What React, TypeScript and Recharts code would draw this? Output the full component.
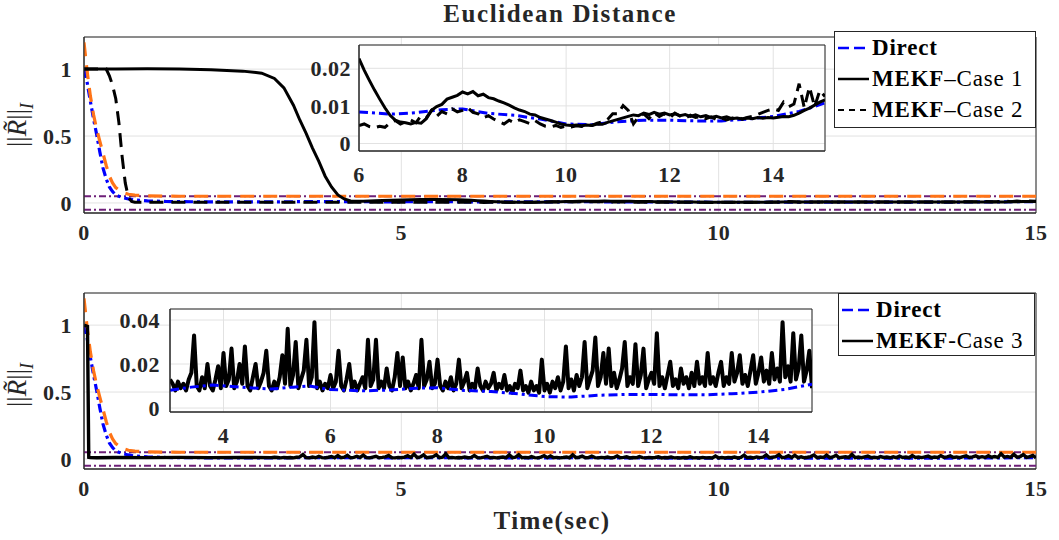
import React from "react";
import { LineChart, Line, XAxis, YAxis, CartesianGrid, ReferenceArea } from "recharts";

const FONT = "'Liberation Serif', 'DejaVu Serif', serif";
const INK = "#262626";
const GRID = "#e2e2e2";
const BLUE = "#0000ff";
const ORANGE = "#ff7417";
const PURPLE = "#6e1f78";

// axes
const mainTicksX = [0, 5, 10, 15];
const mainTicksY = [0, 0.5, 1];
const mainDomainY = [-0.075, 1.24];
const topInsetTicksX = [6, 8, 10, 12, 14];
const topInsetTicksY = [0, 0.01, 0.02];
const topInsetDomainY = [-0.002, 0.0262];
const bottomInsetTicksX = [4, 6, 8, 10, 12, 14];
const bottomInsetTicksY = [0, 0.02, 0.04];
const bottomInsetDomainY = [-0.0018, 0.045];

// bounds (purple dash-dot)
const boundT = [0, 15];
const upperV = [0.05, 0.05];
const lowerV = [-0.05, -0.05];

// Direct (blue)
const directT = [0, 0.05, 0.1, 0.15, 0.2, 0.25, 0.3, 0.35, 0.4, 0.45, 0.5, 0.6, 0.7, 0.8, 1.0, 1.3, 1.7, 2.2, 2.7, 3.0, 3.4, 3.8, 4.3, 4.9, 5.3, 5.6, 6.0, 6.6, 7.1, 7.6, 8.0, 8.5, 9.0, 9.5, 10.0, 10.5, 11.0, 11.5, 12.0, 12.5, 13.0, 13.5, 14.0, 14.5, 15.0];
const directV = [1.0, 0.9, 0.76, 0.63, 0.51, 0.38, 0.26, 0.18, 0.12, 0.085, 0.06, 0.04, 0.03, 0.022, 0.015, 0.011, 0.009, 0.0085, 0.0082, 0.0081, 0.0095, 0.0105, 0.0095, 0.0086, 0.0095, 0.01, 0.0084, 0.0078, 0.0082, 0.009, 0.0092, 0.008, 0.0075, 0.0065, 0.0052, 0.005, 0.0058, 0.0062, 0.0062, 0.006, 0.006, 0.0065, 0.0072, 0.0085, 0.0108];

// orange reference (no legend entry)
const orangeT = [0, 0.05, 0.1, 0.15, 0.2, 0.25, 0.3, 0.35, 0.4, 0.45, 0.5, 0.6, 0.7, 0.8, 1.0, 1.5, 15];
const orangeV = [1.2, 0.98, 0.8, 0.66, 0.55, 0.46, 0.37, 0.28, 0.2, 0.15, 0.115, 0.08, 0.065, 0.058, 0.053, 0.05, 0.05];

// MEKF Case 1: transient, then 6..15 every 0.1 s
const case1T = [0, 0.5, 1.0, 1.5, 2.0, 2.5, 2.8, 3.0, 3.15, 3.3, 3.4, 3.5, 3.6, 3.7, 3.8, 3.9, 4.0, 4.1, 4.2, 4.4, 4.7, 5.0, 5.3, 5.6, 5.9];
const case1V = [1.0, 1.0, 1.002, 1.0, 0.995, 0.985, 0.97, 0.93, 0.86, 0.73, 0.62, 0.52, 0.41, 0.31, 0.2, 0.12, 0.06, 0.03, 0.015, 0.012, 0.018, 0.022, 0.026, 0.026, 0.024];
const case1TailV = [
  0.0226, 0.0195, 0.0168, 0.0142, 0.0118, 0.0095, 0.0075, 0.0062, 0.0057, 0.0055,
  0.0052, 0.0056, 0.0054, 0.0066, 0.0088, 0.0098, 0.0104, 0.0118, 0.0123, 0.0128,
  0.0137, 0.0132, 0.0138, 0.0127, 0.0131, 0.0122, 0.0119, 0.0113, 0.0108, 0.0102,
  0.0095, 0.0089, 0.0085, 0.0078, 0.0076, 0.0069, 0.0065, 0.0061, 0.0057, 0.0052,
  0.0049, 0.0048, 0.0049, 0.0047, 0.0049, 0.0048, 0.0052, 0.0051, 0.0056, 0.006,
  0.0064, 0.0068, 0.0072, 0.0076, 0.0074, 0.0081, 0.0077, 0.0083, 0.0078, 0.0081,
  0.0076, 0.0079, 0.0074, 0.0077, 0.0072, 0.0076, 0.0071, 0.0074, 0.0069, 0.0072,
  0.0068, 0.0071, 0.0066, 0.0068, 0.0065, 0.0068, 0.0066, 0.0069, 0.0067, 0.0069,
  0.0068, 0.007, 0.0072, 0.0071, 0.0075, 0.0081, 0.0088, 0.0094, 0.0102, 0.011,
  0.0116,
];

// MEKF Case 2
const case2T = [0, 0.35, 0.4, 0.45, 0.5, 0.55, 0.6, 0.65, 0.7, 0.75, 0.8, 1.0, 1.5, 2.0, 2.5, 3.0, 3.5, 4.0, 4.5, 5.0, 5.5, 5.9];
const case2V = [1.0, 1.0, 0.95, 0.88, 0.78, 0.6, 0.35, 0.15, 0.04, 0.012, 0.006, 0.005, 0.006, 0.005, 0.006, 0.005, 0.006, 0.005, 0.006, 0.005, 0.006, 0.005];
const case2TailV = [
  0.0048, 0.0052, 0.0045, 0.0042, 0.0046, 0.0043, 0.0055, 0.0061, 0.0052, 0.0058,
  0.0062, 0.0055, 0.0074, 0.0068, 0.0088, 0.0072, 0.0085, 0.0079, 0.0092, 0.0084,
  0.0088, 0.0095, 0.0083, 0.0079, 0.0068, 0.0074, 0.0065, 0.0058, 0.0052, 0.0062,
  0.0055, 0.0063, 0.0058, 0.0053, 0.0061, 0.0052, 0.0046, 0.0044, 0.0048, 0.0043,
  0.0046, 0.0044, 0.0047, 0.0045, 0.005, 0.0048, 0.0054, 0.0058, 0.0064, 0.0079,
  0.0079, 0.0101, 0.0088, 0.0052, 0.0071, 0.0079, 0.0066, 0.0082, 0.0072, 0.0079,
  0.0068, 0.0081, 0.0073, 0.0067, 0.0075, 0.0069, 0.0072, 0.0066, 0.0071, 0.0064,
  0.0068, 0.0063, 0.0067, 0.0071, 0.0065, 0.0069, 0.0072, 0.0077, 0.0083, 0.0088,
  0.0092, 0.0088, 0.011, 0.0098, 0.0105, 0.0159, 0.0095, 0.015, 0.0098, 0.0141,
  0.0125,
];

// MEKF Case 3: transient, then 3..15 every 0.05 s
const case3T = [0, 0.055, 0.065, 0.075, 0.1, 0.2, 0.5, 1.0, 1.5, 2.0, 2.5, 2.95];
const case3V = [1.0, 0.99, 0.5, 0.012, 0.01, 0.009, 0.011, 0.01, 0.012, 0.01, 0.011, 0.01];
const case3TailV = [
  0.013, 0.011, 0.008, 0.012, 0.009, 0.011, 0.008, 0.013, 0.016, 0.033, 0.010, 0.008, 0.014, 0.009, 0.020, 0.010, 0.008, 0.013, 0.019, 0.009,
  0.025, 0.010, 0.013, 0.027, 0.009, 0.012, 0.020, 0.011, 0.028, 0.010, 0.008, 0.014, 0.020, 0.009, 0.012, 0.016, 0.026, 0.010, 0.008, 0.012,
  0.009, 0.014, 0.024, 0.011, 0.036, 0.010, 0.015, 0.030, 0.009, 0.013, 0.017, 0.031, 0.010, 0.014, 0.039, 0.009, 0.012, 0.008, 0.011, 0.009,
  0.015, 0.009, 0.012, 0.026, 0.010, 0.008, 0.013, 0.020, 0.009, 0.012, 0.008, 0.011, 0.014, 0.009, 0.031, 0.010, 0.013, 0.031, 0.009, 0.012,
  0.009, 0.018, 0.010, 0.008, 0.014, 0.025, 0.010, 0.023, 0.009, 0.012, 0.008, 0.011, 0.015, 0.009, 0.031, 0.010, 0.013, 0.021, 0.009, 0.011,
  0.022, 0.010, 0.008, 0.012, 0.009, 0.014, 0.008, 0.011, 0.022, 0.009, 0.012, 0.016, 0.008, 0.011, 0.009, 0.018, 0.010, 0.008, 0.012, 0.009,
  0.011, 0.016, 0.008, 0.011, 0.009, 0.015, 0.008, 0.010, 0.007, 0.011, 0.009, 0.017, 0.008, 0.010, 0.007, 0.012, 0.008, 0.010, 0.007, 0.022,
  0.008, 0.011, 0.007, 0.012, 0.009, 0.014, 0.008, 0.012, 0.028, 0.009, 0.013, 0.008, 0.015, 0.010, 0.014, 0.030, 0.009, 0.013, 0.017, 0.032,
  0.010, 0.014, 0.025, 0.011, 0.027, 0.010, 0.016, 0.009, 0.013, 0.018, 0.030, 0.010, 0.014, 0.011, 0.029, 0.010, 0.015, 0.027, 0.009, 0.013,
  0.016, 0.011, 0.034, 0.010, 0.014, 0.009, 0.015, 0.021, 0.010, 0.013, 0.009, 0.018, 0.011, 0.014, 0.009, 0.016, 0.010, 0.021, 0.011, 0.014,
  0.010, 0.025, 0.011, 0.014, 0.010, 0.016, 0.021, 0.010, 0.014, 0.011, 0.025, 0.012, 0.016, 0.024, 0.011, 0.015, 0.010, 0.017, 0.024, 0.011,
  0.016, 0.023, 0.012, 0.017, 0.011, 0.025, 0.013, 0.018, 0.012, 0.039, 0.014, 0.019, 0.012, 0.034, 0.013, 0.018, 0.033, 0.012, 0.017, 0.026,
  0.009,
];

type Pt = { t: number; v: number };
const zip = (t: number[], v: number[]): Pt[] => t.map((x, i) => ({ t: x, v: v[i] }));
const sampled = (start: number, step: number, v: number[]): Pt[] =>
  v.map((y, i) => ({ t: +(start + i * step).toFixed(2), v: y }));

const upper = zip(boundT, upperV);
const lower = zip(boundT, lowerV);
const direct = zip(directT, directV);
const orange = zip(orangeT, orangeV);
const case1 = [...zip(case1T, case1V), ...sampled(6, 0.1, case1TailV)];
const case2 = [...zip(case2T, case2V), ...sampled(6, 0.1, case2TailV)];
const case3 = [...zip(case3T, case3V), ...sampled(3, 0.05, case3TailV)];
const from = (d: Pt[], t0: number) => d.filter((p) => p.t >= t0 - 1e-9);

const tickStyle = { fill: INK, fontSize: 22, fontWeight: 700, fontFamily: FONT, letterSpacing: 0.5 };
const fmt = (v: number) => String(v);

const lp = { type: "linear" as const, dataKey: "v", dot: false, isAnimationActive: false, activeDot: false };

function MainPanel({ top, lines }: { top: number; lines: React.ReactNode }) {
  return (
    <div style={{ position: "absolute", left: 0, top }}>
      <LineChart width={1059} height={260} margin={{ top: 37, right: 23, bottom: 0, left: 0 }}>
        <CartesianGrid stroke={GRID} strokeWidth={1} />
        <XAxis dataKey="t" type="number" domain={[0, 15]} ticks={mainTicksX} allowDataOverflow
          tickLine={false} axisLine={{ stroke: INK }} tick={tickStyle} tickSize={6} tickMargin={5} height={47} />
        <YAxis type="number" domain={mainDomainY} ticks={mainTicksY} allowDataOverflow tickFormatter={fmt}
          tickLine={false} axisLine={{ stroke: INK }} tick={tickStyle} tickSize={6} tickMargin={6} width={84} />
        {lines}
        <ReferenceArea x1={0} x2={15} y1={mainDomainY[0]} y2={mainDomainY[1]} fill="none" fillOpacity={0} stroke={INK} strokeWidth={1} ifOverflow="visible" />
      </LineChart>
    </div>
  );
}

function InsetPanel({ left, top, width, height, axisW, domainX, ticksX, domainY, ticksY, yMargin, lines }: any) {
  return (
    <div style={{ position: "absolute", left, top }}>
      <LineChart width={width} height={height} margin={{ top: 15, right: 10, bottom: 0, left: 0 }}>
        <CartesianGrid stroke={GRID} fill="#fff" fillOpacity={1} />
        <XAxis dataKey="t" type="number" domain={domainX} ticks={ticksX} allowDataOverflow
          tickLine={false} axisLine={{ stroke: INK }} tick={tickStyle} tickSize={6} tickMargin={9} height={40} />
        <YAxis type="number" domain={domainY} ticks={ticksY} allowDataOverflow tickFormatter={fmt}
          tickLine={false} axisLine={{ stroke: INK }} tick={tickStyle} tickSize={6} tickMargin={yMargin} width={axisW} />
        {lines}
        <ReferenceArea x1={domainX[0]} x2={domainX[1]} y1={domainY[0]} y2={domainY[1]} fill="none" fillOpacity={0} stroke={INK} strokeWidth={1} ifOverflow="visible" />
      </LineChart>
    </div>
  );
}

function LegendRow({ dash, color, width, bold, rest }: { dash?: string; color: string; width: number; bold: string; rest?: string }) {
  return (
    <div style={{ display: "flex", alignItems: "center", height: 31 }}>
      <svg width={34} height={10} style={{ marginLeft: 2, marginRight: 1 }}>
        <line x1={1} y1={5} x2={32} y2={5} stroke={color} strokeWidth={width} strokeDasharray={dash} />
      </svg>
      <span style={{ fontWeight: 700 }}>{bold}</span>
      {rest ? <span>{rest}</span> : null}
    </div>
  );
}

function YLabel({ y }: { y: number }) {
  return (
    <div style={{ position: "absolute", left: 20, top: y, transform: "translate(-50%, -50%) rotate(-90deg)", fontFamily: FONT, fontSize: 27, color: INK, whiteSpace: "nowrap", lineHeight: 1 }}>
      ||<i>R&#771;</i>||<sub style={{ fontSize: 18, fontStyle: "italic" }}>I</sub>
    </div>
  );
}

export default function App() {
  const topLines = [
    <Line key="u" {...lp} data={upper} stroke={PURPLE} strokeWidth={2} strokeDasharray="7 3 2 3" />,
    <Line key="l" {...lp} data={lower} stroke={PURPLE} strokeWidth={2} strokeDasharray="7 3 2 3" />,
    <Line key="d" {...lp} data={direct} stroke={BLUE} strokeWidth={3.2} strokeDasharray="9 4 3 4" />,
    <Line key="o" {...lp} data={orange} stroke={ORANGE} strokeWidth={3.2} strokeDasharray="14 9" />,
    <Line key="c1" {...lp} data={case1} stroke="#000" strokeWidth={3} />,
    <Line key="c2" {...lp} data={case2} stroke="#000" strokeWidth={3} strokeDasharray="14 8" />,
  ];
  const bottomLines = [
    <Line key="u" {...lp} data={upper} stroke={PURPLE} strokeWidth={2} strokeDasharray="7 3 2 3" />,
    <Line key="l" {...lp} data={lower} stroke={PURPLE} strokeWidth={2} strokeDasharray="7 3 2 3" />,
    <Line key="d" {...lp} data={direct} stroke={BLUE} strokeWidth={3.2} strokeDasharray="9 4 3 4" />,
    <Line key="o" {...lp} data={orange} stroke={ORANGE} strokeWidth={3.2} strokeDasharray="14 9" />,
    <Line key="c3" {...lp} data={case3} stroke="#000" strokeWidth={3.4} />,
  ];
  const topInsetLines = [
    <Line key="d" {...lp} data={from(direct, 6)} stroke={BLUE} strokeWidth={3} strokeDasharray="9 4 3 4" />,
    <Line key="c1" {...lp} data={from(case1, 6)} stroke="#000" strokeWidth={3} />,
    <Line key="c2" {...lp} data={from(case2, 6)} stroke="#000" strokeWidth={3} strokeDasharray="12 7" />,
  ];
  const bottomInsetLines = [
    <Line key="c3" {...lp} data={from(case3, 3)} stroke="#000" strokeWidth={4} strokeLinejoin="round" />,
    <Line key="d" {...lp} data={from(direct, 3)} stroke={BLUE} strokeWidth={3} strokeDasharray="9 4 3 4" />,
  ];

  return (
    <div style={{ position: "absolute", left: 0, top: 0, width: 1059, height: 540, background: "#fff", fontFamily: FONT, color: INK, overflow: "hidden" }}>
      <div style={{ position: "absolute", left: 560, top: 14, transform: "translate(-50%, -50%)", fontWeight: 700, fontSize: 25, whiteSpace: "nowrap", letterSpacing: 1.6 }}>
        Euclidean Distance
      </div>

      <MainPanel top={0} lines={topLines} />
      <MainPanel top={256} lines={bottomLines} />

      <InsetPanel left={290} top={30} width={545} height={161} axisW={69} yMargin={2}
        domainX={[6, 15]} ticksX={topInsetTicksX} domainY={topInsetDomainY} ticksY={topInsetTicksY} lines={topInsetLines} />
      <InsetPanel left={100} top={294} width={722} height={158} axisW={70} yMargin={4}
        domainX={[3, 15]} ticksX={bottomInsetTicksX} domainY={bottomInsetDomainY} ticksY={bottomInsetTicksY} lines={bottomInsetLines} />

      <YLabel y={125} />
      <YLabel y={385} />

      <div style={{ position: "absolute", left: 552, top: 521, transform: "translate(-50%, -50%)", fontWeight: 700, fontSize: 25, whiteSpace: "nowrap", letterSpacing: 1.5 }}>
        Time(sec)
      </div>

      <div style={{ position: "absolute", left: 834, top: 31, width: 200, height: 95, border: `1px solid ${INK}`, background: "#fff", fontSize: 23, color: "#000", letterSpacing: 0.8 }}>
        <LegendRow color={BLUE} width={2.5} dash="11 5" bold="Direct" />
        <LegendRow color="#000" width={2.5} bold="MEKF" rest="–Case 1" />
        <LegendRow color="#000" width={2} dash="6 5" bold="MEKF" rest="–Case 2" />
      </div>
      <div style={{ position: "absolute", left: 838, top: 293, width: 195, height: 61, border: `1px solid ${INK}`, background: "#fff", fontSize: 23, color: "#000", letterSpacing: 0.8 }}>
        <LegendRow color={BLUE} width={2.5} dash="11 5" bold="Direct" />
        <LegendRow color="#000" width={2.5} bold="MEKF" rest="-Case 3" />
      </div>
    </div>
  );
}
